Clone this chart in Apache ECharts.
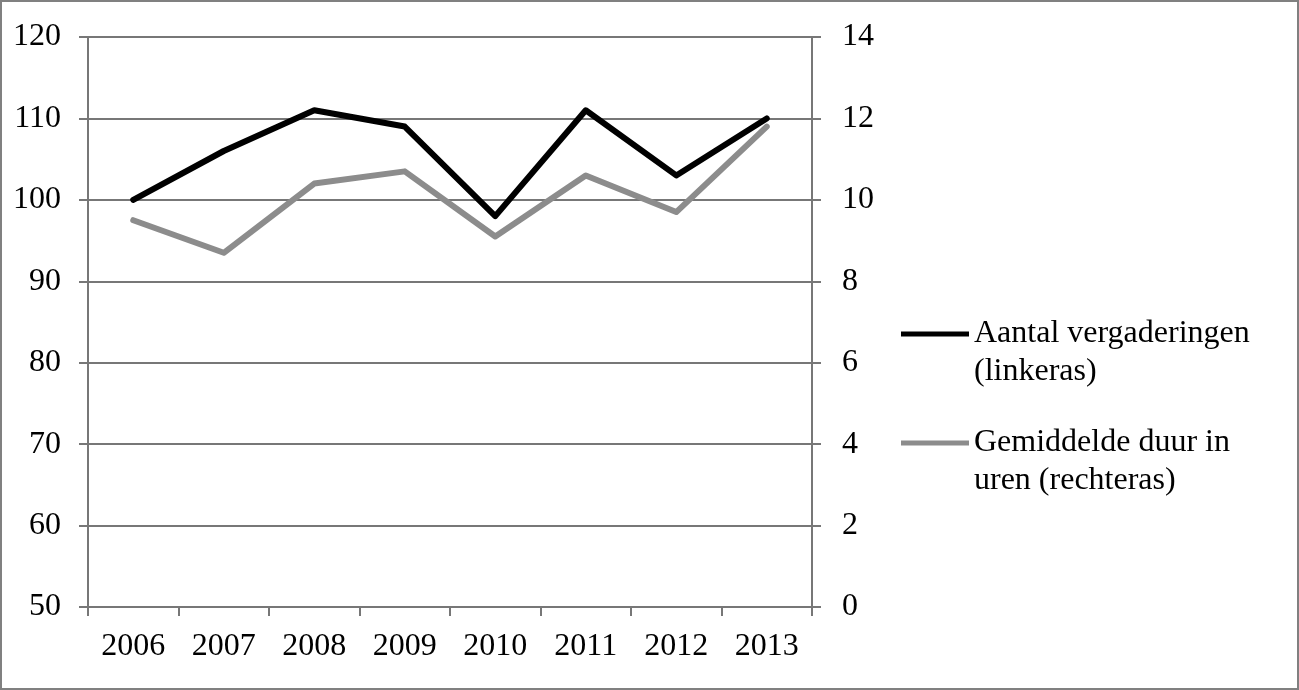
<!DOCTYPE html>
<html>
<head>
<meta charset="utf-8">
<script src="https://cdn.jsdelivr.net/npm/echarts@6/dist/echarts.min.js"></script>
<style>
html,body{margin:0;padding:0;background:#fff;}
#chart{width:1299px;height:690px;}
</style>
</head>
<body>
<div id="chart"></div>
<script>
const categories = ['2006','2007','2008','2009','2010','2011','2012','2013'];
const meetings = [100,106,111,109,98,111,103,110];
const duration = [9.5,8.7,10.4,10.7,9.1,10.6,9.7,11.8];
const seriesNames = ['Aantal vergaderingen\n(linkeras)','Gemiddelde duur in\nuren (rechteras)'];

const FONT = "'Liberation Serif','Times New Roman',serif";
const AXIS_COLOR = '#777777';

const chart = echarts.init(document.getElementById('chart'), null, {renderer:'canvas'});

function legendFor(name, top){
  return {
    data:[{name:name}],
    left:901, top:top, padding:0,
    icon:'rect', itemWidth:68, itemHeight:5,
    formatter: n => ' \n' + n,
    textStyle:{fontFamily:FONT, fontSize:32, color:'#000', lineHeight:38},
    selectedMode:false
  };
}

chart.setOption({
  animation:false,
  backgroundColor:'#fff',
  graphic:[{type:'rect', shape:{x:1,y:1,width:1297,height:688}, style:{fill:'none', stroke:'#808080', lineWidth:2}, silent:true}],
  grid:{left:88, right:487, top:37, bottom:83, containLabel:false},
  legend:[legendFor(seriesNames[0], 277), legendFor(seriesNames[1], 386)],
  xAxis:{
    type:'category', data:categories, boundaryGap:true,
    axisLine:{show:true, lineStyle:{color:AXIS_COLOR, width:2}},
    axisTick:{show:true, length:9, lineStyle:{color:AXIS_COLOR, width:2}},
    axisLabel:{fontFamily:FONT, fontSize:32, color:'#000', margin:24},
    splitLine:{show:false}
  },
  yAxis:[
    {type:'value', min:50, max:120, interval:10, position:'left',
     axisLine:{show:true, lineStyle:{color:AXIS_COLOR, width:2}},
     axisTick:{show:true, length:9, lineStyle:{color:AXIS_COLOR, width:2}},
     axisLabel:{fontFamily:FONT, fontSize:32, color:'#000', margin:27},
     splitLine:{show:true, lineStyle:{color:AXIS_COLOR, width:2}}},
    {type:'value', min:0, max:14, interval:2, position:'right',
     axisLine:{show:true, lineStyle:{color:AXIS_COLOR, width:2}},
     axisTick:{show:true, length:9, lineStyle:{color:AXIS_COLOR, width:2}},
     axisLabel:{fontFamily:FONT, fontSize:32, color:'#000', margin:30},
     splitLine:{show:false}}
  ],
  series:[
    {name:seriesNames[0], type:'line', yAxisIndex:0, data:meetings, symbol:'none', z:3,
     color:'#000', lineStyle:{color:'#000', width:6, cap:'round', join:'round'}},
    {name:seriesNames[1], type:'line', yAxisIndex:1, data:duration, symbol:'none', z:2,
     color:'#8c8c8c', lineStyle:{color:'#8c8c8c', width:6, cap:'round', join:'round'}}
  ]
});
</script>
</body>
</html>
